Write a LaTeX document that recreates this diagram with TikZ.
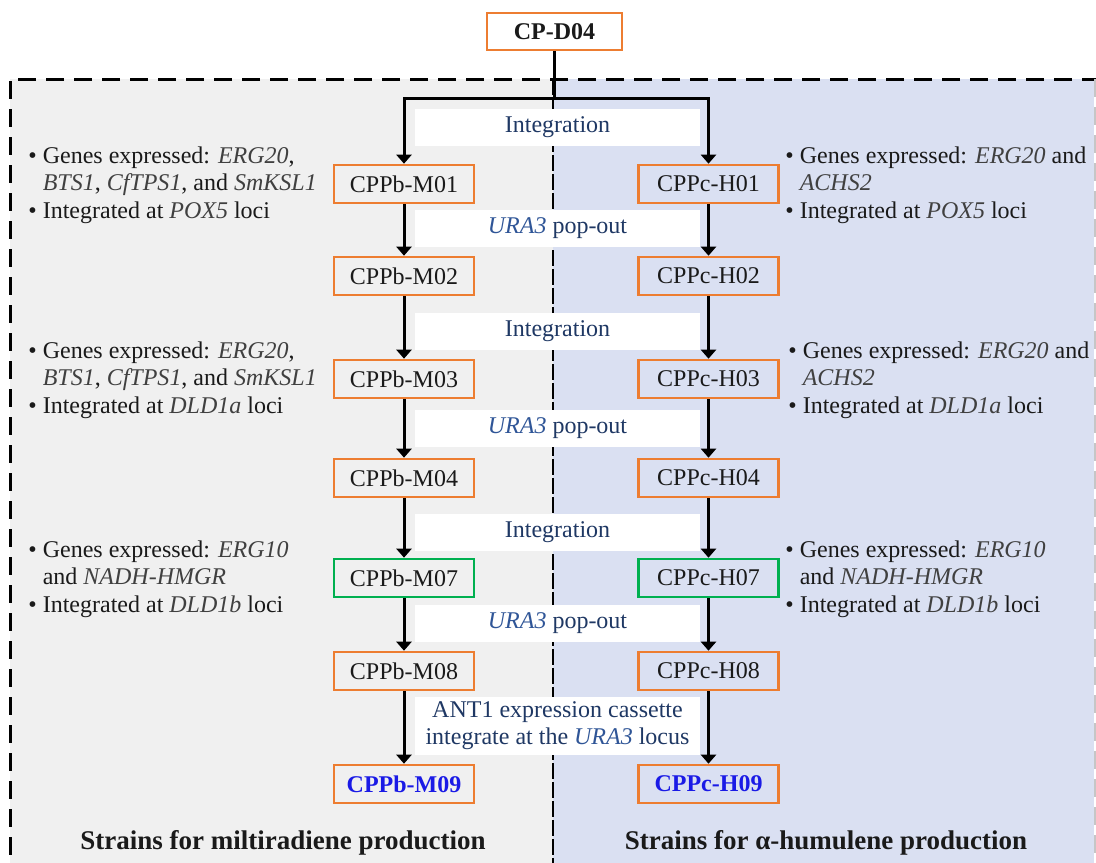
\documentclass[tikz,border=0pt]{standalone}
\usepackage{fontspec}
\setmainfont{Liberation Serif}
\usetikzlibrary{arrows.meta,positioning}
\definecolor{orangeB}{HTML}{ED7D31}
\definecolor{greenB}{HTML}{00B050}
\definecolor{grayBG}{HTML}{F0F0F0}
\definecolor{blueBG}{HTML}{DAE0F2}
\definecolor{navyT}{HTML}{1F3864}
\definecolor{uraT}{HTML}{2F5597}
\definecolor{finalT}{HTML}{1A1AE6}
\definecolor{geneT}{HTML}{404040}
\definecolor{bodyT}{HTML}{1A1A1A}

\tikzset{
  strain/.style={draw=orangeB, line width=1.3pt, minimum width=70pt, minimum height=19pt,
    inner sep=0pt, text=bodyT, font=\fontsize{12}{14}\selectfont},
  strainG/.style={strain, draw=greenB},
  band/.style={fill=white, minimum width=142.5pt, minimum height=18.5pt, inner sep=0pt,
    text=navyT, align=center, font=\fontsize{12}{13.5}\selectfont},
  note/.style={anchor=west, align=left, inner sep=0pt, text=bodyT,
    font=\fontsize{12}{13.75}\selectfont},
  flow/.style={line width=1.5pt, -{Triangle[width=7.5pt,length=4.5pt]}},
  trunk/.style={line width=1.5pt},
  title/.style={text=bodyT, font=\fontsize{13.5}{16}\selectfont\bfseries},
}
\newcommand{\gene}[1]{\textcolor{geneT}{\textit{#1}}}
\newcommand{\ura}{\textcolor{uraT}{\textit{URA3}}}
\newcommand{\ind}{\phantom{\textbullet\ }}

\begin{document}
\begin{tikzpicture}[x=0.5pt,y=-0.5pt]
\useasboundingbox (0,0) rectangle (1096,862);
\clip (0,0) rectangle (1096,862);

%背景
\fill[grayBG] (10,79) rectangle (553,870); %左
\fill[blueBG] (553,79) rectangle (1094,870); %右
\draw[line width=1.5pt, dash pattern=on 9pt off 5pt] (1100,79) -- (10,79) -- (10,870); %外枠
\draw[gray!45, line width=1pt, dash pattern=on 9pt off 5pt] (1095,79) -- (1095,870); %外枠右
\draw[line width=1pt, dash pattern=on 8pt off 1.5pt] (553,79) -- (553,870); %中央線

%帯
\node[band] (b1) at (557.5,127) {Integration};
\node[band] (b2) at (557.5,228) {\ura\ pop-out};
\node[band] (b3) at (557.5,331) {Integration};
\node[band] (b4) at (557.5,428) {\ura\ pop-out};
\node[band] (b5) at (557.5,532) {Integration};
\node[band] (b6) at (557.5,623) {\ura\ pop-out};
\node[band, minimum height=29pt] (b7) at (557.5,726) {ANT1 expression cassette\\integrate at the \ura\ locus};

%株
\node[strain, minimum width=67.5pt, minimum height=18.5pt, font=\fontsize{12}{14}\selectfont\bfseries] (top) at (554.5,31.5) {CP-D04};
\node[strain] (m01) at (404,184) {CPPb-M01};
\node[strain] (h01) at (708.5,184) {CPPc-H01};
\node[strain] (m02) at (404,276) {CPPb-M02};
\node[strain] (h02) at (708.5,276) {CPPc-H02};
\node[strain] (m03) at (404,379) {CPPb-M03};
\node[strain] (h03) at (708.5,379) {CPPc-H03};
\node[strain] (m04) at (404,478) {CPPb-M04};
\node[strain] (h04) at (708.5,478) {CPPc-H04};
\node[strainG] (m07) at (404,578) {CPPb-M07};
\node[strainG] (h07) at (708.5,578) {CPPc-H07};
\node[strain] (m08) at (404,671) {CPPb-M08};
\node[strain] (h08) at (708.5,671) {CPPc-H08};
\node[strain, text=finalT, font=\fontsize{12}{14}\selectfont\bfseries] (m09) at (404,784) {CPPb-M09};
\node[strain, text=finalT, font=\fontsize{12}{14}\selectfont\bfseries] (h09) at (708.5,784) {CPPc-H09};

%矢印
\coordinate (split) at (554.5,98);
\draw[trunk] (top.south) -- (split);
\draw[flow] (split) -| (m01.north);
\draw[flow] (split) -| (h01.north);
\foreach \a/\b in {m01/m02,m02/m03,m03/m04,m04/m07,m07/m08,m08/m09,
                   h01/h02,h02/h03,h03/h04,h04/h07,h07/h08,h08/h09}
  \draw[flow] (\a) -- (\b);

%説明
\node[note] (nl1) at (28,185) {\textbullet\ Genes expressed: \gene{ERG20},\\\ind\gene{BTS1}, \gene{CfTPS1}, and \gene{SmKSL1}\\\textbullet\ Integrated at \gene{POX5} loci};
\node[note] (nr1) at (785,185) {\textbullet\ Genes expressed: \gene{ERG20} and\\\ind\gene{ACHS2}\\\textbullet\ Integrated at \gene{POX5} loci};
\node[note] (nl2) at (28,380) {\textbullet\ Genes expressed: \gene{ERG20},\\\ind\gene{BTS1}, \gene{CfTPS1}, and \gene{SmKSL1}\\\textbullet\ Integrated at \gene{DLD1a} loci};
\node[note] (nr2) at (788,380) {\textbullet\ Genes expressed: \gene{ERG20} and\\\ind\gene{ACHS2}\\\textbullet\ Integrated at \gene{DLD1a} loci};
\node[note] (nl3) at (28,579) {\textbullet\ Genes expressed: \gene{ERG10}\\\ind and \gene{NADH-HMGR}\\\textbullet\ Integrated at \gene{DLD1b} loci};
\node[note] (nr3) at (785,579) {\textbullet\ Genes expressed: \gene{ERG10}\\\ind and \gene{NADH-HMGR}\\\textbullet\ Integrated at \gene{DLD1b} loci};

%表題
\node[title] (tl) at (283,843) {Strains for miltiradiene production};
\node[title] (tr) at (826,843) {Strains for α-humulene production};
\end{tikzpicture}
\end{document}
